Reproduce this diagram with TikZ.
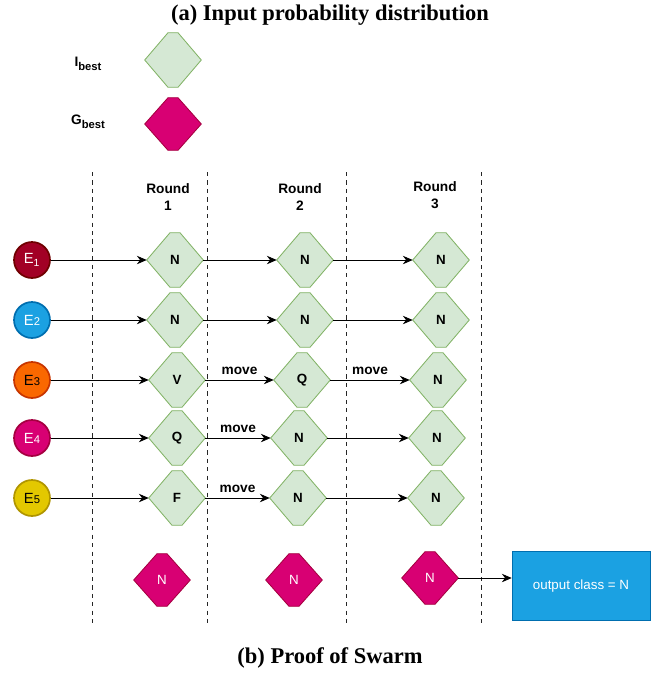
\documentclass[tikz,border=0pt]{standalone}
\usepackage{fontspec}
\setmainfont{Liberation Serif}
\setsansfont{Liberation Sans}
\usetikzlibrary{positioning}
\usetikzlibrary{backgrounds}
\usetikzlibrary{calc}
\usetikzlibrary{arrows.meta}

\definecolor{gemfill}{HTML}{D5E8D4}
\definecolor{gemline}{HTML}{82B366}
\definecolor{magfill}{HTML}{D80073}
\definecolor{magline}{HTML}{A50040}
\definecolor{redfill}{HTML}{A20025}
\definecolor{redline}{HTML}{6F0000}
\definecolor{bluefill}{HTML}{1BA1E2}
\definecolor{blueline}{HTML}{006EAF}
\definecolor{orafill}{HTML}{FA6800}
\definecolor{oraline}{HTML}{C73500}
\definecolor{yelfill}{HTML}{E3C800}
\definecolor{yelline}{HTML}{B09500}

\begin{document}
\begin{tikzpicture} [
            outpt/.style={->,black,semithick},
            >={Stealth[length=7pt,width=6pt]},
            every node/.append style={align=center,font=\sffamily\fontsize{9.5}{11}\selectfont},
            gem/.style={rectangle,minimum width=1.4cm,minimum height=1.35cm,inner sep=0pt,font=\sffamily\bfseries\fontsize{9.5}{10}\selectfont},
            gbest/.style={gem,minimum height=1.3cm,text=white,font=\sffamily\fontsize{9.5}{10}\selectfont},
            expert/.style={circle,minimum size=0.9cm,inner sep=0pt,line width=1.2pt,font=\sffamily\fontsize{10.5}{11}\selectfont},
            title/.style={font=\bfseries\fontsize{16}{18}\selectfont},
            bold/.style={font=\sffamily\bfseries\fontsize{9.75}{12}\selectfont}]

\useasboundingbox (0,0) rectangle (16.525,-16.875);

%titles
\node[title] (ta) at (8.25,-0.375) {(a) Input probability distribution};
\node[title] (tb) at (8.25,-16.45) {(b) Proof of Swarm};

%legend
\node[bold] (lib) at (2.2,-1.6) {I\raisebox{-2.5pt}{\fontsize{8}{9}\selectfont best}};
\node[gem] (ib) at (4.325,-1.5) {};
\node[bold] (lgb) at (2.2,-3.05) {G\raisebox{-2.5pt}{\fontsize{8}{9}\selectfont best}};
\node[gbest] (gb) at (4.325,-3.1) {};

%round separators
\foreach \x in {2.3,5.175,8.65,12.025}
   \draw[dashed,black!85] (\x,-4.3) -- (\x,-15.625);

\node[bold] (rd1) at (4.2,-4.92) {Round\\1};
\node[bold] (rd2) at (7.5,-4.92) {Round\\2};
\node[bold] (rd3) at (10.875,-4.87) {Round\\3};

%experts
\node[expert,fill=redfill,draw=redline,text=white] (e1) at (0.8,-6.5) {E\textsubscript{1}};
\node[expert,fill=bluefill,draw=blueline,text=white] (e2) at (0.8,-8) {E{\footnotesize 2}};
\node[expert,fill=orafill,draw=oraline] (e3) at (0.8,-9.5) {E{\footnotesize 3}};
\node[expert,fill=magfill,draw=magline,text=white] (e4) at (0.8,-10.95) {E{\footnotesize 4}};
\node[expert,fill=yelfill,draw=yelline] (e5) at (0.8,-12.45) {E{\footnotesize 5}};

%rounds
\node[gem] (r11) at (4.375,-6.5) {N};
\node[gem] (r12) at (7.625,-6.5) {N};
\node[gem] (r13) at (11.025,-6.5) {N};
\node[gem] (r21) at (4.375,-8) {N};
\node[gem] (r22) at (7.625,-8) {N};
\node[gem] (r23) at (11.025,-8) {N};
\node[gem] (r31) at (4.425,-9.5) {V};
\node[gem] (r32) at (7.55,-9.5) {Q};
\node[gem] (r33) at (10.95,-9.5) {N};
\node[gem] (r41) at (4.425,-10.95) {Q};
\node[gem] (r42) at (7.475,-10.95) {N};
\node[gem] (r43) at (10.925,-10.95) {N};
\node[gem] (r51) at (4.425,-12.45) {F};
\node[gem] (r52) at (7.45,-12.45) {N};
\node[gem] (r53) at (10.9,-12.45) {N};

%global best
\node[gbest] (g1) at (4.05,-14.5) {N};
\node[gbest] (g2) at (7.35,-14.5) {N};
\node[gbest] (g3) at (10.75,-14.45) {N};
\node (out) at (14.525,-14.64) [fill=bluefill,draw=blueline,minimum width=3.45cm,minimum height=1.725cm,text=white] {output class = N};

\foreach \i in {1,...,5}
   \draw [outpt] (e\i) -- (r\i1);
\draw [outpt] (r11) -- (r12);
\draw [outpt] (r12) -- (r13);
\draw [outpt] (r21) -- (r22);
\draw [outpt] (r22) -- (r23);
\draw [outpt] (r31) -- node[bold,above] {move} (r32);
\draw [outpt] (r32) -- node[bold,above] {move} (r33);
\draw [outpt] (r41) -- node[bold,above] {move} (r42);
\draw [outpt] (r42) -- (r43);
\draw [outpt] (r51) -- node[bold,above] {move} (r52);
\draw [outpt] (r52) -- (r53);
\draw [outpt] (g3) -- (g3 -| out.west);

\begin{pgfonlayer}{background}
   % truncated diamonds behind the labels
   \foreach \n/\f/\d in {ib/gemfill/gemline,r11/gemfill/gemline,r12/gemfill/gemline,r13/gemfill/gemline,
        r21/gemfill/gemline,r22/gemfill/gemline,r23/gemfill/gemline,r31/gemfill/gemline,r32/gemfill/gemline,
        r33/gemfill/gemline,r41/gemfill/gemline,r42/gemfill/gemline,r43/gemfill/gemline,r51/gemfill/gemline,
        r52/gemfill/gemline,r53/gemfill/gemline,gb/magfill/magline,g1/magfill/magline,g2/magfill/magline,g3/magfill/magline}
      \path[fill=\f, draw=\d, semithick]
      ($(\n.north)+(-.125,0)$) -- ($(\n.north)+(.125,0)$) -- (\n.east) --
      ($(\n.south)+(.125,0)$) -- ($(\n.south)+(-.125,0)$) -- (\n.west) -- cycle;
\end{pgfonlayer}

\end{tikzpicture}
\end{document}
